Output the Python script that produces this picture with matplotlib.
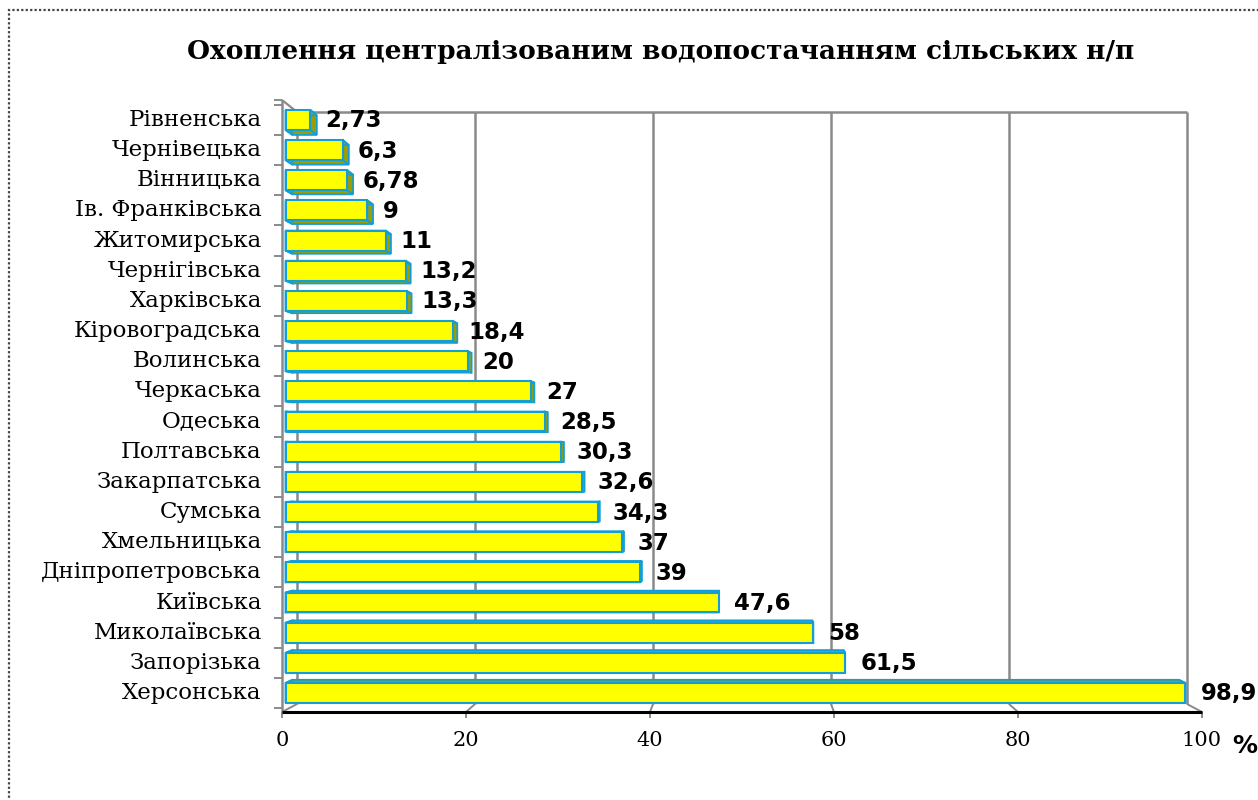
import matplotlib
matplotlib.use("Agg")
import matplotlib.pyplot as plt
import numpy as np
from matplotlib.patches import Polygon, Rectangle
from matplotlib.lines import Line2D
from matplotlib.transforms import Affine2D, IdentityTransform

# ---------------- data ----------------
regions = ["Херсонська", "Запорізька", "Миколаївська", "Київська", "Дніпропетровська",
           "Хмельницька", "Сумська", "Закарпатська", "Полтавська", "Одеська",
           "Черкаська", "Волинська", "Кіровоградська", "Харківська", "Чернігівська",
           "Житомирська", "Ів. Франківська", "Вінницька", "Чернівецька", "Рівненська"]
values = [98.9, 61.5, 58, 47.6, 39, 37, 34.3, 32.6, 30.3, 28.5,
          27, 20, 18.4, 13.3, 13.2, 11, 9, 6.78, 6.3, 2.73]
xticks = [0, 20, 40, 60, 80, 100]
title = "Охоплення централізованим водопостачанням сільських н/п"
unit = "%"

W, H = 1258, 800
fig = plt.figure(figsize=(W / 100, H / 100), dpi=100)
ax = fig.add_axes([282 / W, 88 / H, 920 / W, 612 / H])
ax.set_xlim(0, 100)
ax.set_ylim(-0.63, 19.66)
ax.axis("off")

ID = IdentityTransform()
GRID = "#8a8a8a"
BLUE = "#139fd6"
YEL = "#ffff00"
OLIVE = "#a09c00"


def line(p1, p2, color=GRID, lw=1.6, z=1):
    ax.add_line(Line2D([p1[0], p2[0]], [p1[1], p2[1]], transform=ID, clip_on=False,
                       color=color, lw=lw, zorder=z, solid_capstyle="butt"))


# perspective frame: front (axis) scale and back-wall scale
front = ax.transData
back = Affine2D().scale(8.9 / 9.2, 1).translate(15 / 9.2, 0) + ax.transData

y_front_top = H - 100
y_front_bot = H - 712
y_back_top = H - 112
y_back_bot = H - 704

for v in xticks:
    bx = back.transform((v, 0))[0]
    fx = front.transform((v, 0))[0]
    line((bx, y_back_top), (bx, y_back_bot), lw=1.8)          # back-wall gridline
    line((fx, y_front_bot), (bx, y_back_bot), lw=1.4)          # floor diagonal
    line((fx, y_front_bot), (fx, y_front_bot - 6), lw=1.4)     # tick
    ax.text(v, -1.25, str(v), ha="center", va="top",
            fontsize=15, family="DejaVu Serif", color="black")

bx0 = back.transform((0, 0))[0]
bx100 = back.transform((100, 0))[0]
fx0 = front.transform((0, 0))[0]
fx100 = front.transform((100, 0))[0]
line((bx0, y_back_top), (bx100, y_back_top), lw=1.8)           # back-wall top
line((fx0, y_front_top), (bx0, y_back_top), lw=1.6)            # top-left diagonal
line((fx0, y_front_top), (fx0, y_front_bot), lw=1.8, z=2)      # left wall edge
line((fx0, y_front_bot), (fx100, y_front_bot), color="black", lw=2.2, z=3)

# category ticks on the left edge
for b in [i + 0.5 for i in range(-1, len(regions))]:
    yd = ax.transData.transform((0, b))[1]
    line((fx0 - 8, yd), (fx0, yd), lw=1.4)
line((fx0 - 8, y_front_top), (fx0, y_front_top), lw=1.4)

# ---------------- bars (with perspective depth) ----------------
barT = Affine2D().scale(9.1 / 9.2, 1).translate(3.5 / 9.2, 0) + ax.transData
VP = np.array([742.0, H - 467.0])   # vanishing point (display coords)
shrink = 0.985                       # back face scale towards vanishing point

ypos = list(range(len(regions)))
bh = 0.66
bars = ax.barh(ypos, values, height=bh, color=YEL, edgecolor=BLUE, linewidth=1.5, zorder=6)
for rect, v, y in zip(bars, values, ypos):
    rect.set_transform(barT)
    xl, yb = barT.transform((0, y - bh / 2))
    xr, yt = barT.transform((v, y + bh / 2))
    F = np.array([(xl, yb), (xr, yb), (xr, yt), (xl, yt)])
    B = VP + shrink * (F - VP)
    for a, b in [(0, 1), (1, 2), (2, 3), (3, 0)]:
        face = Polygon([F[a], F[b], B[b], B[a]], closed=True, transform=ID,
                       facecolor=OLIVE, edgecolor=BLUE, lw=1.3, zorder=5, clip_on=False)
        ax.add_patch(face)
    lbl = ("%g" % v).replace(".", ",")
    ax.annotate(lbl, xy=(v, y), xycoords=barT, xytext=(15, -1), textcoords="offset pixels",
                ha="left", va="center", fontsize=16.5, fontweight="bold",
                family="DejaVu Sans", color="black", zorder=7, annotation_clip=False)

# category labels
for y, name in zip(ypos, regions):
    ax.text(-2.2, y, name, ha="right", va="center", fontsize=16.5,
            family="DejaVu Serif", color="black")

# unit
fig.text(1245 / W, 1 - 746 / H, unit, ha="center", va="center", fontsize=18,
         fontweight="bold", family="DejaVu Sans")

# title
fig.text(661 / W, 1 - 52 / H, title, ha="center", va="center", fontsize=19,
         fontweight="bold", family="DejaVu Serif")

# dotted frame
fig.add_artist(Rectangle((9 / W, -0.05), 1.2, 1 - 10 / H + 0.05, transform=fig.transFigure,
                         fill=False, edgecolor="#444444", lw=1.6, linestyle=(0, (1, 1)),
                         clip_on=False))

fig.savefig("out.png", dpi=100)
